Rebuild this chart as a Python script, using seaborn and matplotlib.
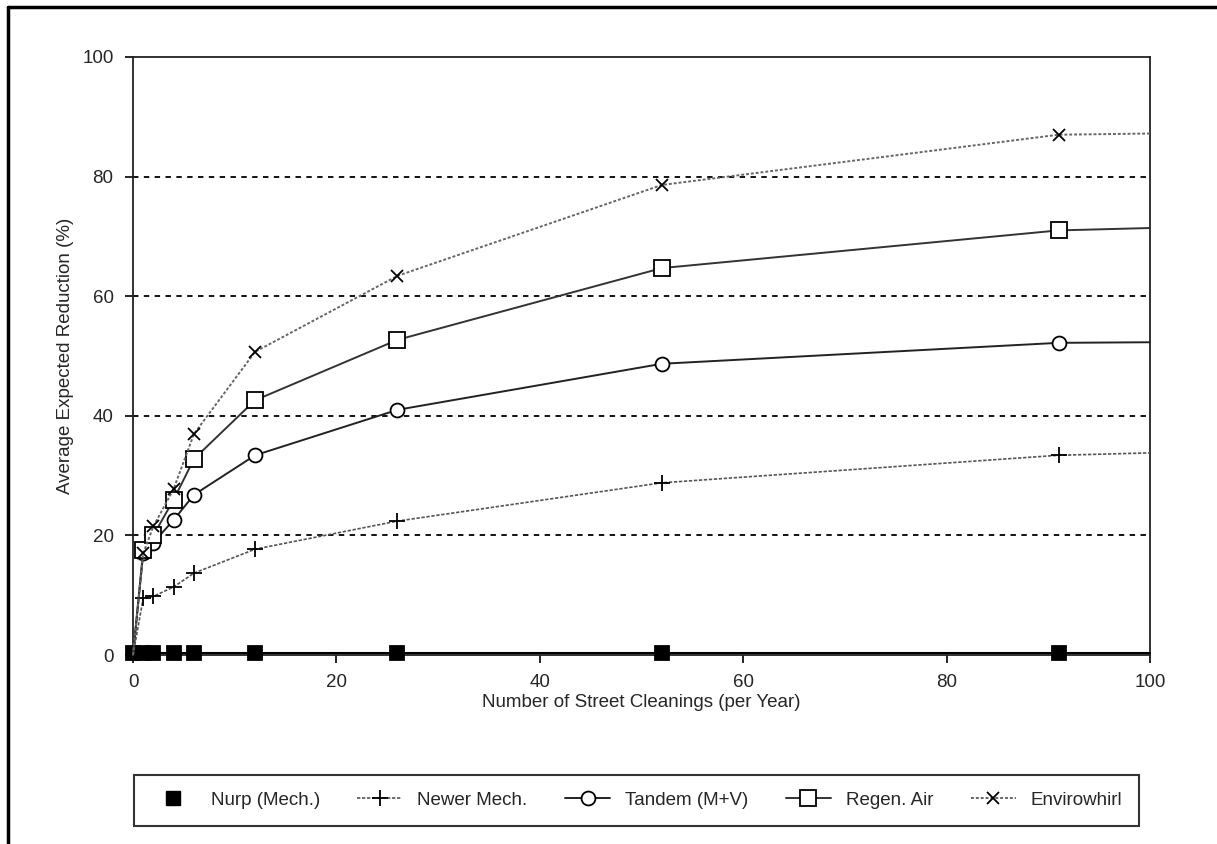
import pandas as pd
import matplotlib.pyplot as plt
import seaborn as sns
from matplotlib.lines import Line2D

# cleanings per year (last point = extension of the curve to 100)
cleanings = [0, 1, 2, 4, 6, 12, 26, 52, 91, 100]
nurp = [0.3, 0.3, 0.3, 0.3, 0.3, 0.3, 0.3, 0.3, 0.3, 0.3]
newer_mech = [0, 9.5, 9.8, 11.4, 13.7, 17.7, 22.4, 28.8, 33.4, 33.8]
tandem = [0, 17.0, 18.8, 22.6, 26.8, 33.4, 41.0, 48.7, 52.2, 52.3]
regen_air = [0, 17.5, 20.0, 26.0, 32.8, 42.6, 52.7, 64.7, 71.0, 71.4]
envirowhirl = [0, 17.0, 21.5, 27.8, 37.0, 50.7, 63.4, 78.6, 87.0, 87.2]

series_names = ['Nurp (Mech.)', 'Newer Mech.', 'Tandem (M+V)', 'Regen. Air', 'Envirowhirl']
series_values = [nurp, newer_mech, tandem, regen_air, envirowhirl]

sns.set_style('white')
plt.rcParams['font.family'] = ['Liberation Sans Narrow', 'Liberation Sans', 'DejaVu Sans']

fig = plt.figure(figsize=(12.17, 8.44), dpi=100)
ax = fig.add_axes([0.1093, 0.2239, 0.8357, 0.7086])

# style per series: marker, facecolor, line color, linestyle, marker size
styles = {
    'Nurp (Mech.)': dict(marker='s', mfc='black', color='black', ls='-', ms=10, lw=1.5, start=0),
    'Newer Mech.': dict(marker='+', mfc='black', color='#555555', ls=(0, (2, 1)), ms=12, lw=1.2, start=1),
    'Tandem (M+V)': dict(marker='o', mfc='white', color='#222222', ls='-', ms=10, lw=1.4, start=1),
    'Regen. Air': dict(marker='s', mfc='white', color='#333333', ls='-', ms=11, lw=1.4, start=1),
    'Envirowhirl': dict(marker='x', mfc='white', color='#666666', ls=(0, (1.5, 1)), ms=9, lw=1.4, start=1),
}

for name, vals in zip(series_names, series_values):
    df = pd.DataFrame({'x': cleanings, 'y': vals})
    st = styles[name]
    marker_idx = list(range(st['start'], len(cleanings) - 1))
    sns.lineplot(data=df, x='x', y='y', ax=ax, color=st['color'], linestyle=st['ls'],
                 linewidth=st['lw'], marker=st['marker'], markersize=st['ms'],
                 markerfacecolor=st['mfc'], markeredgecolor='black', markeredgewidth=1.3,
                 markevery=marker_idx, label=name, zorder=3, clip_on=False)

# dashed reference lines
for yv in [20, 40, 60, 80]:
    ax.axhline(yv, color='black', ls=(0, (3, 3)), lw=1.3, zorder=1)

ax.set_xlim(0, 100)
ax.set_ylim(0, 100)
ax.set_xticks([0, 20, 40, 60, 80, 100])
ax.set_yticks([0, 20, 40, 60, 80, 100])
ax.tick_params(axis='both', direction='out', length=6, width=1.2, labelsize=13.5,
               bottom=True, left=True, color='black', pad=8)
for sp in ax.spines.values():
    sp.set_visible(True)
    sp.set_color('#222222')
    sp.set_linewidth(1.3)

ax.set_xlabel('Number of Street Cleanings (per Year)', fontsize=13.5, labelpad=2)
ax.set_ylabel('Average Expected Reduction (%)', fontsize=13.5, labelpad=6)

if ax.legend_:
    ax.legend_.remove()
handles, labels = ax.get_legend_handles_labels()
handles[0] = Line2D([], [], ls='none', marker='s', ms=10, mfc='black', mec='black')
leg = fig.legend(handles, labels, loc='center', bbox_to_anchor=(0.523, 0.052),
                 ncol=5, frameon=True, fontsize=13.5, fancybox=False, edgecolor='black',
                 handlelength=2.4, columnspacing=2.0, borderpad=0.9, handletextpad=0.8)
leg.get_frame().set_linewidth(1.5)

# outer page frame
fig.add_artist(Line2D([0.0066, 0.0066], [0, 0.9917], color='black', lw=2.5))
fig.add_artist(Line2D([0.0066, 1.0], [0.9917, 0.9917], color='black', lw=2.5))

fig.savefig('out.png', dpi=100)
